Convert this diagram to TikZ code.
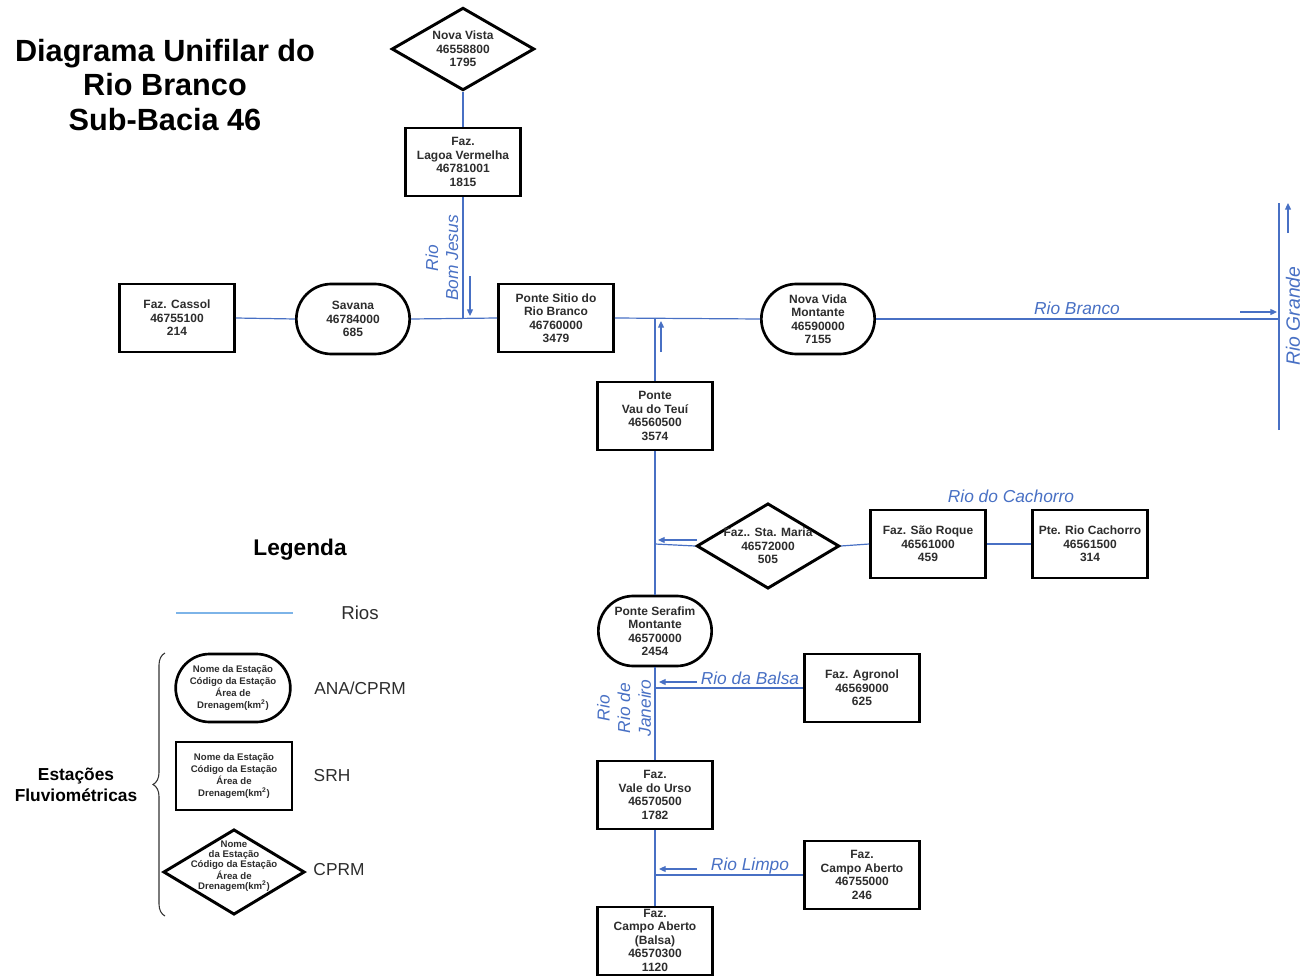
\documentclass[tikz,border=0pt]{standalone}
\usepackage{fontspec}
\setmainfont{Liberation Sans}
\usetikzlibrary{shapes.geometric,shapes.misc,arrows.meta,decorations.pathreplacing}
\definecolor{rioblue}{RGB}{72,112,196}
\definecolor{lightrio}{RGB}{125,180,232}
\definecolor{txtgray}{RGB}{45,45,45}
\begin{document}
\begin{tikzpicture}[x=0.75pt,y=-0.75pt,
  river/.style={draw=rioblue, line width=0.9pt},
  riverarrow/.style={draw=rioblue, line width=0.9pt, -{Triangle[length=5pt,width=4.5pt]}},
  rlabel/.style={text=rioblue, font=\fontsize{13}{15}\selectfont\itshape, inner sep=0pt},
  ntext/.style={text=txtgray, font=\fontsize{9}{10.1}\selectfont\bfseries, align=center, inner sep=0pt},
  ltext/.style={text=txtgray, font=\fontsize{7.2}{9.2}\selectfont\bfseries, align=center, inner sep=0pt},
  stbox/.style={draw=black, line width=2.2pt, fill=white, rectangle, minimum width=86pt, minimum height=51pt, inner sep=0pt},
  strnd/.style={draw=black, line width=2pt, fill=white, rounded rectangle, minimum width=85pt, minimum height=52.5pt, inner sep=0pt},
  stdiam/.style={draw=black, line width=2.2pt, fill=white, diamond, minimum width=107pt, minimum height=62pt, inner sep=0pt},
  legtxt/.style={text=txtgray, font=\fontsize{13}{15}\selectfont, inner sep=0pt}
]
\useasboundingbox (0,0) rectangle (1303,977);

% junction / free-end coordinates
\coordinate (jbj) at (463,319);
\coordinate (jvt) at (655,319);
\coordinate (rgmouth) at (1279,319);
\coordinate (rgtop) at (1279,203);
\coordinate (rgbot) at (1279,430);
\coordinate (jca) at (655,544);
\coordinate (jba) at (655,688);
\coordinate (jli) at (655,875);

% title
\node[font=\fontsize{23}{26}\selectfont\bfseries, align=center, inner sep=0pt] (title) at (165,85) {Diagrama Unifilar do\\Rio Branco\\Sub-Bacia 46};

% station shapes
\node[stdiam] (nv) at (463,49) {};
\node[stbox] (lv) at (463,162) {};
\node[stbox] (fc) at (177,318) {};
\node[strnd] (sv) at (353,319) {};
\node[stbox] (ps) at (556,318) {};
\node[strnd] (nvm) at (818,319) {};
\node[stbox] (vt) at (655,416) {};
\node[stdiam, minimum height=64pt] (sm) at (768,546) {};
\node[stbox] (sr) at (928,544) {};
\node[stbox] (rc) at (1090,544) {};
\node[strnd] (sf) at (655,631) {};
\node[stbox] (ag) at (862,688) {};
\node[stbox] (vu) at (655,795) {};
\node[stbox] (ca) at (862,875) {};
\node[stbox] (cb) at (655,941) {};

% rivers
\draw[river] (nv.south) -- (lv.north);
\draw[river] (lv.south) -- (jbj);
\draw[river] (fc.east) -- (sv.west);
\draw[river] (sv.east) -- (ps.west);
\draw[river] (ps.east) -- (nvm.west);
\draw[river] (nvm.east) -- (rgmouth);
\draw[river] (rgbot) -- (rgtop);
\draw[river] (vt.north) -- (jvt);
\draw[river] (vt.south) -- (sf.north);
\draw[river] (sf.south) -- (vu.north);
\draw[river] (vu.south) -- (cb.north);
\draw[river] (sm.west) -- (jca);
\draw[river] (sm.east) -- (sr.west);
\draw[river] (sr.east) -- (rc.west);
\draw[river] (ag.west) -- (jba);
\draw[river] (ca.west) -- (jli);

% flow arrows
\coordinate (a1s) at (470,276); \coordinate (a1e) at (470,316);
\coordinate (a2s) at (661,352); \coordinate (a2e) at (661,321);
\coordinate (a3s) at (1288,233); \coordinate (a3e) at (1288,203);
\coordinate (a4s) at (1240,312); \coordinate (a4e) at (1277,312);
\coordinate (a5s) at (697,540); \coordinate (a5e) at (658,540);
\coordinate (a6s) at (697,682); \coordinate (a6e) at (659,682);
\coordinate (a7s) at (697,869); \coordinate (a7e) at (659,869);
\draw[riverarrow] (a1s) -- (a1e);
\draw[riverarrow] (a2s) -- (a2e);
\draw[riverarrow] (a3s) -- (a3e);
\draw[riverarrow] (a4s) -- (a4e);
\draw[riverarrow] (a5s) -- (a5e);
\draw[riverarrow] (a6s) -- (a6e);
\draw[riverarrow] (a7s) -- (a7e);

% river labels
\node[rlabel, rotate=90, align=center, font=\fontsize{13}{15}\selectfont\itshape] (lbj) at (442,258) {Rio\\Bom Jesus};
\node[rlabel] (lrb) at (1077,308) {Rio Branco};
\node[rlabel, rotate=90, font=\fontsize{14.5}{17}\selectfont\itshape] (lrg) at (1293,316) {Rio Grande};
\node[rlabel] (lrc) at (1011,496) {Rio do Cachorro};
\node[rlabel] (lrba) at (750,678) {Rio da Balsa};
\node[rlabel] (lrl) at (750,866) {Rio Limpo};
\node[rlabel, rotate=90, align=center, font=\fontsize{13}{15.5}\selectfont\itshape] (lrj) at (624,708) {Rio\\Rio de\\Janeiro};

% station texts
\node[ntext] (tnv) at (nv) {Nova Vista\\46558800\\1795};
\node[ntext] (tlv) at (lv) {Faz.\\Lagoa Vermelha\\46781001\\1815};
\node[ntext] (tfc) at (fc) {Faz. Cassol\\46755100\\214};
\node[ntext] (tsv) at (sv) {Savana\\46784000\\685};
\node[ntext] (tps) at (ps) {Ponte Sitio do\\Rio Branco\\46760000\\3479};
\node[ntext] (tnvm) at (nvm) {Nova Vida\\Montante\\46590000\\7155};
\node[ntext] (tvt) at (vt) {Ponte\\Vau do Teuí\\46560500\\3574};
\node[ntext] (tsm) at (sm) {Faz.. Sta. Maria\\46572000\\505};
\node[ntext] (tsr) at (sr) {Faz. São Roque\\46561000\\459};
\node[ntext] (trc) at (rc) {Pte. Rio Cachorro\\46561500\\314};
\node[ntext] (tsf) at (sf) {Ponte Serafim\\Montante\\46570000\\2454};
\node[ntext] (tag) at (ag) {Faz. Agronol\\46569000\\625};
\node[ntext] (tvu) at (vu) {Faz.\\Vale do Urso\\46570500\\1782};
\node[ntext] (tca) at (ca) {Faz.\\Campo Aberto\\46755000\\246};
\node[ntext] (tcb) at (655,940) {Faz.\\Campo Aberto\\(Balsa)\\46570300\\1120};

% legend
\node[font=\fontsize{17}{20}\selectfont\bfseries, inner sep=0pt] (leg) at (300,550) {Legenda};
\coordinate (lr1) at (176,613); \coordinate (lr2) at (293,613);
\draw[draw=lightrio, line width=1pt] (lr1) -- (lr2);
\node[legtxt, font=\fontsize{14}{16}\selectfont] (lrios) at (360,613) {Rios};

\node[strnd, minimum width=86pt, minimum height=51pt] (l1) at (233,688) {};
\node[ltext] (tl1) at (l1) {Nome da Estação\\Código da Estação\\Área de\\Drenagem(km\textsuperscript{2})};
\node[legtxt] (ll1) at (360,688) {ANA/CPRM};

\node[stbox, minimum width=87pt] (l2) at (234,776) {};
\node[ltext] (tl2) at (l2) {Nome da Estação\\Código da Estação\\Área de\\Drenagem(km\textsuperscript{2})};
\node[legtxt] (ll2) at (332,776) {SRH};

\node[stdiam, minimum width=106pt, minimum height=64pt] (l3) at (234,872) {};
\node[ltext, font=\fontsize{7.2}{7.6}\selectfont\bfseries] (tl3) at (234,866) {Nome\\da Estação\\Código da Estação\\Área de\\Drenagem(km\textsuperscript{2})};
\node[legtxt] (ll3) at (339,870) {CPRM};

\coordinate (br1) at (165,916); \coordinate (br2) at (165,653);
\draw[black!80, line width=0.8pt, decorate, decoration={brace, amplitude=9pt}] (br1) -- (br2);
\node[font=\fontsize{13}{15.75}\selectfont\bfseries, align=center, inner sep=0pt] (est) at (76,785) {Estações\\Fluviométricas};

\end{tikzpicture}
\end{document}
